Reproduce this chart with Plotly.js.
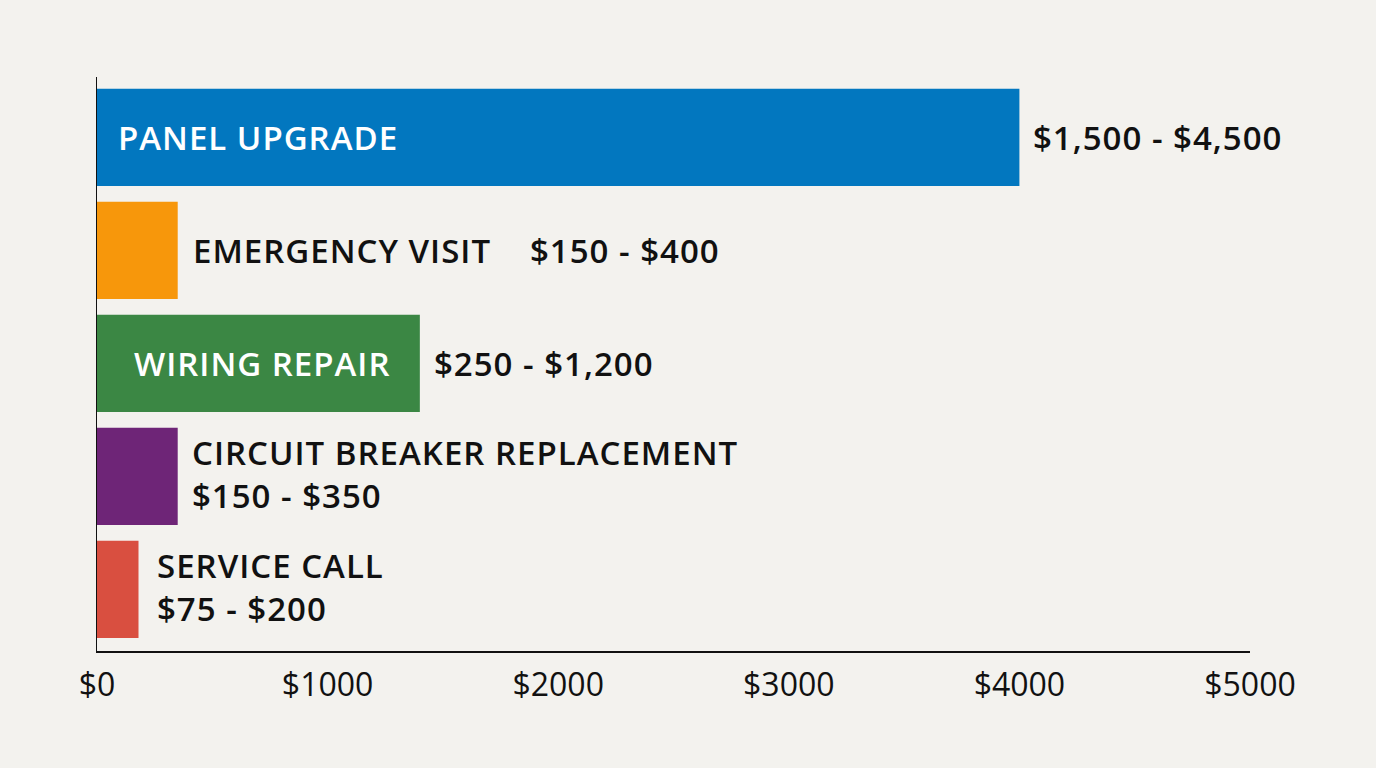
<!DOCTYPE html>
<html>
<head>
<meta charset="utf-8">
<script src="https://cdn.plot.ly/plotly-3.0.1.min.js"></script>
<style>
  html, body { margin: 0; padding: 0; background: #f3f2ee; }
  #chart { width: 1376px; height: 768px; }
  #chart .annotation-text { letter-spacing: 1px; }
</style>
</head>
<body>
<div id="chart"></div>
<script>
// data, bottom to top
const services = ["SERVICE CALL", "CIRCUIT BREAKER REPLACEMENT", "WIRING REPAIR", "EMERGENCY VISIT", "PANEL UPGRADE"];
const barValues = [180, 350, 1400, 350, 4000];
const lowPrices = [75, 150, 250, 150, 1500];
const highPrices = [200, 350, 1200, 400, 4500];
const barColors = ["#d94f40", "#6e2577", "#3b8744", "#f7970b", "#0277bf"];
const tickValues = [0, 1000, 2000, 3000, 4000, 5000];

const money = v => "$" + v.toLocaleString("en-US");
const ranges = lowPrices.map((lo, i) => money(lo) + " - " + money(highPrices[i]));

// how each label sits: inside the bar, next to it, or stacked in two lines
const labelMode = ["stack", "stack", "inside", "row", "inside"];
const font = "Open Sans, sans-serif";

var annotations = [];
services.forEach((name, i) => {
  let mode = labelMode[i];
  let base = { yref: 'y', xref: 'x', y: name, yanchor: 'middle', xanchor: 'left', align: 'left', showarrow: false,
    font: { family: font, size: 33, color: '#111111', weight: 600 } };
  if (mode == "inside") {
    annotations.push(Object.assign({}, base, {
      x: 0, xshift: i == 4 ? 19 : 35, text: name,
      font: { family: font, size: 33, color: '#ffffff', weight: 600 }
    }));
    annotations.push(Object.assign({}, base, { x: barValues[i], xshift: 12, text: ranges[i] }));
  } else if (mode == "row") {
    annotations.push(Object.assign({}, base, { x: barValues[i], xshift: 13, text: name }));
    annotations.push(Object.assign({}, base, { x: barValues[i], xshift: 350, text: ranges[i] }));
  } else {
    annotations.push(Object.assign({}, base, {
      x: barValues[i], xshift: i == 0 ? 16 : 12, yshift: 2, text: name + "<br>" + ranges[i]
    }));
  }
});

var data = [{
  type: 'bar',
  orientation: 'h',
  y: services,
  x: barValues,
  marker: { color: barColors, line: { width: 0 } },
  hoverinfo: 'none'
}];

var layout = {
  width: 1376,
  height: 768,
  autosize: false,
  showlegend: false,
  paper_bgcolor: '#f3f2ee',
  plot_bgcolor: '#f3f2ee',
  margin: { l: 97, r: 126, t: 77, b: 117 },
  bargap: 0.14,
  font: { family: font, color: '#111111' },
  xaxis: {
    range: [0, 5000],
    tickvals: tickValues,
    ticktext: tickValues.map(v => "$" + v),
    showgrid: false,
    zeroline: false,
    showline: true,
    linecolor: '#111111',
    linewidth: 1.5,
    ticks: '',
    ticklabelstandoff: 5,
    tickfont: { family: font, size: 32, color: '#111111', weight: 500 },
    fixedrange: true
  },
  yaxis: {
    type: 'category',
    range: [-0.545, 4.535],
    showticklabels: false,
    showgrid: false,
    zeroline: false,
    showline: true,
    linecolor: '#111111',
    linewidth: 1.5,
    ticks: '',
    fixedrange: true
  },
  annotations
};

Plotly.newPlot("chart", data, layout, { displayModeBar: false, staticPlot: true });
</script>
</body>
</html>
